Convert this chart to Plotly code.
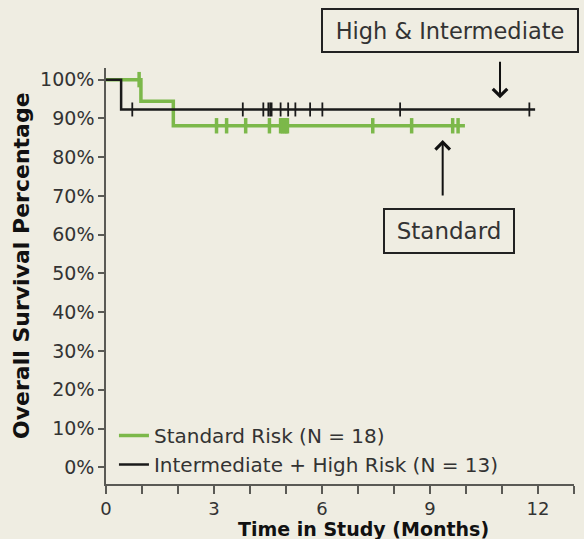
import plotly.graph_objects as go

# ---- data ----
std_step_t = [0, 0.97, 1.87, 9.97]
std_step_s = [100, 94.4, 88.1, 88.1]
std_cens_t = [0.92, 3.07, 3.35, 3.88, 4.54, 4.85, 4.90, 4.95, 5.00, 5.04, 7.41, 8.49, 9.63, 9.78]
std_cens_s = [100, 88.1, 88.1, 88.1, 88.1, 88.1, 88.1, 88.1, 88.1, 88.1, 88.1, 88.1, 88.1, 88.1]

ih_step_t = [0, 0.42, 11.92]
ih_step_s = [100, 92.3, 92.3]
ih_cens_t = [0.73, 3.80, 4.37, 4.51, 4.56, 4.60, 4.85, 5.06, 5.26, 5.67, 6.01, 8.17, 11.76]
ih_cens_s = [92.3] * len(ih_cens_t)

x_ticks = [0, 3, 6, 9, 12]
y_ticks = [0, 10, 20, 30, 40, 50, 60, 70, 80, 90, 100]
y_tick_labels = [f"{v}%" for v in y_ticks]

std_name = "Standard Risk (N = 18)"
ih_name = "Intermediate + High Risk (N = 13)"

GREEN = "#7cb84a"
BLACK = "#1a1a1a"
BG = "#efede2"
FONT = "DejaVu Sans"

fig = go.Figure()
fig.add_trace(go.Scatter(x=std_step_t, y=std_step_s, mode="lines", line_shape="hv",
                         line=dict(color=GREEN, width=3.5), name=std_name))
fig.add_trace(go.Scatter(x=std_cens_t, y=std_cens_s, mode="markers", showlegend=False,
                         marker=dict(symbol="line-ns", size=11, line=dict(color=GREEN, width=3.5))))
fig.add_trace(go.Scatter(x=ih_step_t, y=ih_step_s, mode="lines", line_shape="hv",
                         line=dict(color=BLACK, width=2.5), name=ih_name))
fig.add_trace(go.Scatter(x=ih_cens_t, y=ih_cens_s, mode="markers", showlegend=False,
                         marker=dict(symbol="line-ns", size=10, line=dict(color=BLACK, width=1.8))))

axis_col = "#5a5a55"
fig.update_layout(
    width=584, height=539,
    margin=dict(l=106, r=10, t=68, b=55),
    paper_bgcolor=BG, plot_bgcolor=BG,
    font=dict(family=FONT, color="#333333"),
    showlegend=True,
    legend=dict(x=0.017, y=0.0, xanchor="left", yanchor="bottom",
                bgcolor="rgba(0,0,0,0)", font=dict(size=20, color="#333333"),
                tracegroupgap=0),
    xaxis=dict(range=[0, 13], tickvals=x_ticks, ticks="outside", ticklen=8, tickwidth=1.5,
               tickcolor=axis_col, showline=True, linecolor=axis_col, linewidth=1.5,
               showgrid=False, zeroline=False, tickfont=dict(size=18),
               minor=dict(dtick=1, tick0=0, ticks="outside", ticklen=8, tickwidth=1.5,
                          tickcolor=axis_col, showgrid=False)),
    yaxis=dict(range=[-4.3, 103], tickvals=y_ticks, ticktext=y_tick_labels, ticks="outside",
               ticklen=6, tickwidth=1.5, tickcolor=axis_col, showline=True,
               linecolor=axis_col, linewidth=1.5, showgrid=False, zeroline=False,
               tickfont=dict(size=19)),
)

ann = []
# axis titles
ann.append(dict(text="<b>Time in Study (Months)</b>", xref="paper", yref="paper",
                x=(363 - 106) / 468, y=(484 - 516) / 416, xanchor="center", yanchor="top",
                showarrow=False, font=dict(size=19, color="#111111")))
ann.append(dict(text="<b>Overall Survival Percentage</b>", xref="paper", yref="paper",
                x=(21 - 106) / 468, y=(484 - 266) / 416, xanchor="center", yanchor="middle",
                textangle=-90, showarrow=False, font=dict(size=22, color="#111111")))
# boxes
ann.append(dict(text="High &amp; Intermediate", xref="paper", yref="paper",
                x=0.7361, y=1.0913, xanchor="center", yanchor="middle", showarrow=False,
                width=250, height=37, bordercolor="#222222", borderwidth=2, borderpad=2,
                font=dict(size=22.5, color="#333333")))
ann.append(dict(text="Standard", xref="paper", yref="paper",
                x=0.7329, y=0.6075, xanchor="center", yanchor="middle", showarrow=False,
                width=124, height=38, bordercolor="#222222", borderwidth=2, borderpad=2,
                font=dict(size=23, color="#333333")))
# arrows
ann.append(dict(text="", xref="paper", yref="paper", x=0.8419, y=0.9272, ax=0, ay=-38,
                showarrow=True, arrowhead=4, arrowsize=1.4, arrowwidth=2, arrowcolor="#111111",
                standoff=0))
ann.append(dict(text="", xref="paper", yref="paper", x=0.7194, y=0.8269, ax=0, ay=57,
                showarrow=True, arrowhead=4, arrowsize=1.4, arrowwidth=2, arrowcolor="#111111",
                standoff=0))
fig.update_layout(annotations=ann)

fig.write_html("out.html", config={"displayModeBar": False},
               post_script="document.body.style.margin='0px';document.body.style.background='" + BG + "';")
